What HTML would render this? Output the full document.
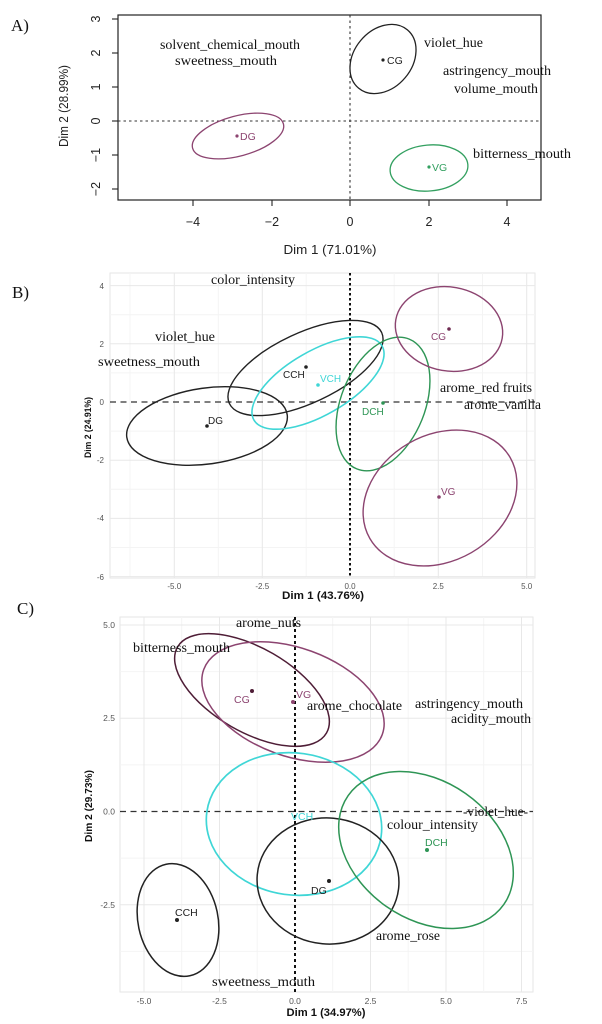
<!DOCTYPE html>
<html><head><meta charset="utf-8"><style>
html,body{margin:0;padding:0;background:#fff;}
svg{display:block;}
.ser{font-family:"Liberation Serif",serif;font-size:14px;fill:#111;}
.sn{font-family:"Liberation Sans",sans-serif;}
</style></head><body>
<svg width="602" height="1024" viewBox="0 0 602 1024" xmlns="http://www.w3.org/2000/svg">
<rect width="602" height="1024" fill="#fff"/>

<!-- ============ PANEL A ============ -->
<text x="11" y="31" class="ser" style="font-size:17px">A)</text>
<rect x="118" y="15" width="423" height="185" fill="none" stroke="#222" stroke-width="1.2"/>
<g stroke="#222" stroke-width="1.1">
<line x1="112" y1="19" x2="118" y2="19"/><line x1="112" y1="53" x2="118" y2="53"/>
<line x1="112" y1="87" x2="118" y2="87"/><line x1="112" y1="121" x2="118" y2="121"/>
<line x1="112" y1="155" x2="118" y2="155"/><line x1="112" y1="189" x2="118" y2="189"/>
<line x1="193" y1="200" x2="193" y2="206"/><line x1="272" y1="200" x2="272" y2="206"/>
<line x1="350" y1="200" x2="350" y2="206"/><line x1="429" y1="200" x2="429" y2="206"/>
<line x1="507" y1="200" x2="507" y2="206"/>
</g>
<g class="sn" font-size="12.5" fill="#222" text-anchor="middle">
<text transform="translate(100 19) rotate(-90)">3</text>
<text transform="translate(100 53) rotate(-90)">2</text>
<text transform="translate(100 87) rotate(-90)">1</text>
<text transform="translate(100 121) rotate(-90)">0</text>
<text transform="translate(100 155) rotate(-90)">−1</text>
<text transform="translate(100 189) rotate(-90)">−2</text>
<text x="193" y="226">−4</text><text x="272" y="226">−2</text><text x="350" y="226">0</text>
<text x="429" y="226">2</text><text x="507" y="226">4</text>
<text x="330" y="254" textLength="93" lengthAdjust="spacingAndGlyphs" font-size="13">Dim 1 (71.01%)</text>
<text transform="translate(68 106) rotate(-90)" textLength="82" lengthAdjust="spacingAndGlyphs" font-size="12.5">Dim 2 (28.99%)</text>
</g>
<g stroke="#333" stroke-width="1.1" stroke-dasharray="2.5 3">
<line x1="118" y1="121" x2="541" y2="121"/>
<line x1="350" y1="15" x2="350" y2="200"/>
</g>
<ellipse cx="238" cy="136" rx="47" ry="20" transform="rotate(-15 238 136)" fill="none" stroke="#8c4470" stroke-width="1.3"/>
<ellipse cx="383" cy="59" rx="38" ry="29" transform="rotate(-50 383 59)" fill="none" stroke="#222" stroke-width="1.3"/>
<ellipse cx="429" cy="168" rx="39" ry="23" transform="rotate(-5 429 168)" fill="none" stroke="#33a060" stroke-width="1.3"/>
<circle cx="237" cy="136" r="1.6" fill="#8c4470"/>
<circle cx="383" cy="60" r="1.6" fill="#222"/>
<circle cx="429" cy="167" r="1.6" fill="#33a060"/>
<g class="sn" font-size="10.5">
<text x="240" y="140" fill="#8c4470">DG</text>
<text x="387" y="64" fill="#222">CG</text>
<text x="432" y="171" fill="#33a060">VG</text>
</g>
<text class="ser" x="160" y="49" textLength="140" lengthAdjust="spacingAndGlyphs">solvent_chemical_mouth</text>
<text class="ser" x="175" y="65" textLength="102" lengthAdjust="spacingAndGlyphs">sweetness_mouth</text>
<text class="ser" x="424" y="47" textLength="59" lengthAdjust="spacingAndGlyphs">violet_hue</text>
<text class="ser" x="443" y="75" textLength="108" lengthAdjust="spacingAndGlyphs">astringency_mouth</text>
<text class="ser" x="454" y="93" textLength="84" lengthAdjust="spacingAndGlyphs">volume_mouth</text>
<text class="ser" x="473" y="158" textLength="98" lengthAdjust="spacingAndGlyphs">bitterness_mouth</text>

<!-- ============ PANEL B ============ -->
<text x="12" y="298" class="ser" style="font-size:17px">B)</text>
<rect x="110" y="273" width="425" height="305" fill="#fff" stroke="#e6e6e6" stroke-width="1"/>
<g stroke="#f4f4f4" stroke-width="1">
<line x1="130" y1="273" x2="130" y2="578"/><line x1="218.3" y1="273" x2="218.3" y2="578"/>
<line x1="306.2" y1="273" x2="306.2" y2="578"/><line x1="394.2" y1="273" x2="394.2" y2="578"/>
<line x1="482.5" y1="273" x2="482.5" y2="578"/>
<line x1="110" y1="314.7" x2="535" y2="314.7"/><line x1="110" y1="372.9" x2="535" y2="372.9"/>
<line x1="110" y1="431.1" x2="535" y2="431.1"/><line x1="110" y1="489.3" x2="535" y2="489.3"/>
<line x1="110" y1="547.5" x2="535" y2="547.5"/>
</g>
<g stroke="#e8e8e8" stroke-width="1">
<line x1="174.3" y1="273" x2="174.3" y2="578"/><line x1="262.3" y1="273" x2="262.3" y2="578"/>
<line x1="438.3" y1="273" x2="438.3" y2="578"/><line x1="526.7" y1="273" x2="526.7" y2="578"/>
<line x1="110" y1="285.6" x2="535" y2="285.6"/><line x1="110" y1="343.8" x2="535" y2="343.8"/>
<line x1="110" y1="460.2" x2="535" y2="460.2"/><line x1="110" y1="518.4" x2="535" y2="518.4"/>
<line x1="110" y1="576.6" x2="535" y2="576.6"/>
</g>
<g class="sn" font-size="8" fill="#555" text-anchor="end">
<text x="104" y="289">4</text><text x="104" y="347">2</text><text x="104" y="405">0</text>
<text x="104" y="463">-2</text><text x="104" y="521">-4</text><text x="104" y="580">-6</text>
</g>
<g class="sn" font-size="8" fill="#555" text-anchor="middle">
<text x="174.3" y="589">-5.0</text><text x="262.3" y="589">-2.5</text><text x="350" y="589">0.0</text>
<text x="438.3" y="589">2.5</text><text x="526.7" y="589">5.0</text>
</g>
<text class="sn" x="323" y="599" font-size="11" font-weight="bold" fill="#111" text-anchor="middle" textLength="82" lengthAdjust="spacingAndGlyphs">Dim 1 (43.76%)</text>
<text class="sn" transform="translate(91 427.5) rotate(-90)" font-size="9" font-weight="bold" fill="#111" text-anchor="middle" textLength="61" lengthAdjust="spacingAndGlyphs">Dim 2 (24.91%)</text>
<line x1="110" y1="402" x2="535" y2="402" stroke="#333" stroke-width="1.3" stroke-dasharray="6 4.5"/>
<line x1="350" y1="273" x2="350" y2="578" stroke="#111" stroke-width="2" stroke-dasharray="2.5 2.5"/>
<ellipse cx="207" cy="426" rx="81" ry="38" transform="rotate(-8 207 426)" fill="none" stroke="#222" stroke-width="1.4"/>
<ellipse cx="305.5" cy="368" rx="84" ry="35" transform="rotate(-25 305.5 368)" fill="none" stroke="#222" stroke-width="1.4"/>
<ellipse cx="318" cy="383" rx="74" ry="32" transform="rotate(-30 318 383)" fill="none" stroke="#3fd6d6" stroke-width="1.6"/>
<ellipse cx="383" cy="404" rx="42" ry="70" transform="rotate(22 383 404)" fill="none" stroke="#2e9555" stroke-width="1.4"/>
<ellipse cx="449" cy="329" rx="54" ry="42" transform="rotate(10 449 329)" fill="none" stroke="#8c4470" stroke-width="1.4"/>
<ellipse cx="440" cy="498" rx="81" ry="63" transform="rotate(-30 440 498)" fill="none" stroke="#8c4470" stroke-width="1.4"/>
<circle cx="207" cy="426" r="1.8" fill="#222"/>
<circle cx="306" cy="367" r="1.8" fill="#222"/>
<circle cx="318" cy="385" r="1.8" fill="#3fd6d6"/>
<circle cx="383" cy="403" r="1.8" fill="#2e9555"/>
<circle cx="449" cy="329" r="1.8" fill="#6e2a50"/>
<circle cx="439" cy="497" r="1.8" fill="#8c4470"/>
<g class="sn" font-size="10">
<text x="208" y="424" fill="#222">DG</text>
<text x="283" y="378" fill="#222">CCH</text>
<text x="320" y="382" fill="#3fd6d6">VCH</text>
<text x="362" y="415" fill="#2e9555">DCH</text>
<text x="431" y="340" fill="#8c4470">CG</text>
<text x="441" y="495" fill="#8c4470">VG</text>
</g>
<text class="ser" x="211" y="284" textLength="84" lengthAdjust="spacingAndGlyphs">color_intensity</text>
<text class="ser" x="155" y="341" textLength="60" lengthAdjust="spacingAndGlyphs">violet_hue</text>
<text class="ser" x="98" y="366" textLength="102" lengthAdjust="spacingAndGlyphs">sweetness_mouth</text>
<text class="ser" x="440" y="392" textLength="92" lengthAdjust="spacingAndGlyphs">arome_red fruits</text>
<text class="ser" x="464" y="409" textLength="77" lengthAdjust="spacingAndGlyphs">arome_vanilla</text>

<!-- ============ PANEL C ============ -->
<text x="17" y="614" class="ser" style="font-size:17px">C)</text>
<rect x="120" y="617" width="413" height="375" fill="#fff" stroke="#e6e6e6" stroke-width="1"/>
<g stroke="#f4f4f4" stroke-width="1">
<line x1="181.7" y1="617" x2="181.7" y2="992"/><line x1="257.2" y1="617" x2="257.2" y2="992"/>
<line x1="332.7" y1="617" x2="332.7" y2="992"/><line x1="408.2" y1="617" x2="408.2" y2="992"/>
<line x1="483.7" y1="617" x2="483.7" y2="992"/>
<line x1="120" y1="671.6" x2="533" y2="671.6"/><line x1="120" y1="764.9" x2="533" y2="764.9"/>
<line x1="120" y1="858.1" x2="533" y2="858.1"/><line x1="120" y1="951.4" x2="533" y2="951.4"/>
</g>
<g stroke="#e8e8e8" stroke-width="1">
<line x1="144" y1="617" x2="144" y2="992"/><line x1="219.5" y1="617" x2="219.5" y2="992"/>
<line x1="370.5" y1="617" x2="370.5" y2="992"/><line x1="446" y1="617" x2="446" y2="992"/>
<line x1="521.5" y1="617" x2="521.5" y2="992"/>
<line x1="120" y1="625" x2="533" y2="625"/><line x1="120" y1="718.2" x2="533" y2="718.2"/>
<line x1="120" y1="904.8" x2="533" y2="904.8"/>
</g>
<g class="sn" font-size="8.5" fill="#555" text-anchor="end">
<text x="115" y="628">5.0</text><text x="115" y="721">2.5</text>
<text x="115" y="814.5">0.0</text><text x="115" y="908">-2.5</text>
</g>
<g class="sn" font-size="8.5" fill="#555" text-anchor="middle">
<text x="144" y="1004">-5.0</text><text x="219.5" y="1004">-2.5</text><text x="295" y="1004">0.0</text>
<text x="370.5" y="1004">2.5</text><text x="446" y="1004">5.0</text><text x="521.5" y="1004">7.5</text>
</g>
<text class="sn" x="326" y="1016" font-size="11" font-weight="bold" fill="#111" text-anchor="middle" textLength="79" lengthAdjust="spacingAndGlyphs">Dim 1 (34.97%)</text>
<text class="sn" transform="translate(92 806) rotate(-90)" font-size="10" font-weight="bold" fill="#111" text-anchor="middle" textLength="72" lengthAdjust="spacingAndGlyphs">Dim 2 (29.73%)</text>
<line x1="120" y1="811.5" x2="533" y2="811.5" stroke="#333" stroke-width="1.3" stroke-dasharray="6 4.5"/>
<line x1="295" y1="617" x2="295" y2="992" stroke="#111" stroke-width="2" stroke-dasharray="3 3"/>
<ellipse cx="252" cy="690" rx="86" ry="42" transform="rotate(30 252 690)" fill="none" stroke="#4e1d36" stroke-width="1.5"/>
<ellipse cx="293" cy="702" rx="95" ry="54" transform="rotate(20 293 702)" fill="none" stroke="#8c4470" stroke-width="1.5"/>
<ellipse cx="294" cy="824" rx="88" ry="71" transform="rotate(8 294 824)" fill="none" stroke="#3fd6d6" stroke-width="1.7"/>
<ellipse cx="328" cy="881" rx="71" ry="63" transform="rotate(5 328 881)" fill="none" stroke="#222" stroke-width="1.5"/>
<ellipse cx="426" cy="850" rx="95" ry="69" transform="rotate(35 426 850)" fill="none" stroke="#2e9555" stroke-width="1.5"/>
<ellipse cx="178" cy="920" rx="40" ry="57" transform="rotate(-12 178 920)" fill="none" stroke="#222" stroke-width="1.5"/>
<circle cx="252" cy="691" r="2" fill="#4e1d36"/>
<circle cx="293" cy="702" r="2" fill="#8c4470"/>
<circle cx="329" cy="881" r="2" fill="#222"/>
<circle cx="427" cy="850" r="2" fill="#2e9555"/>
<circle cx="177" cy="920" r="2" fill="#222"/>
<g class="sn" font-size="10.5">
<text x="234" y="703" fill="#8c4470">CG</text>
<text x="296" y="698" fill="#8c4470">VG</text>
<text x="291" y="820" fill="#3fd6d6">VCH</text>
<text x="311" y="894" fill="#222">DG</text>
<text x="425" y="846" fill="#2e9555">DCH</text>
<text x="175" y="916" fill="#222">CCH</text>
</g>
<text class="ser" x="236" y="627" textLength="65" lengthAdjust="spacingAndGlyphs">arome_nuts</text>
<text class="ser" x="133" y="652" textLength="97" lengthAdjust="spacingAndGlyphs">bitterness_mouth</text>
<text class="ser" x="307" y="710" textLength="95" lengthAdjust="spacingAndGlyphs">arome_chocolate</text>
<text class="ser" x="415" y="708" textLength="108" lengthAdjust="spacingAndGlyphs">astringency_mouth</text>
<text class="ser" x="451" y="723" textLength="80" lengthAdjust="spacingAndGlyphs">acidity_mouth</text>
<text class="ser" x="463" y="816" textLength="65" lengthAdjust="spacingAndGlyphs">-violet_hue-</text>
<text class="ser" x="387" y="829" textLength="91" lengthAdjust="spacingAndGlyphs">colour_intensity</text>
<text class="ser" x="376" y="940" textLength="64" lengthAdjust="spacingAndGlyphs">arome_rose</text>
<text class="ser" x="212" y="986" textLength="103" lengthAdjust="spacingAndGlyphs">sweetness_mouth</text>
</svg>
</body></html>
